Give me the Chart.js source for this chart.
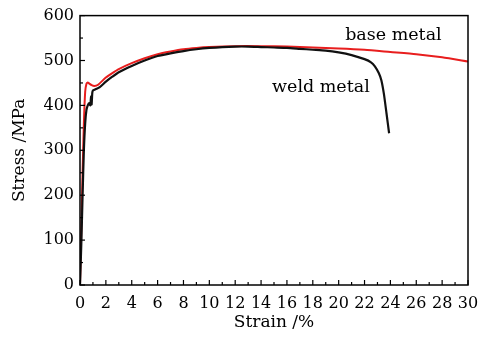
<!DOCTYPE html>
<html>
<head>
<meta charset="utf-8">
<script src="https://cdn.jsdelivr.net/npm/chart.js@4"></script>
<style>
  html, body { margin: 0; padding: 0; background: #fff; }
  #wrap { width: 495px; height: 338px; }
</style>
</head>
<body>
<div id="wrap"><canvas id="curve" width="495" height="338"></canvas></div>
<script>
// base metal (red)
const baseStrain = [0, 0.1, 0.2, 0.3, 0.4, 0.5, 0.6, 0.7, 0.9, 1.1, 1.4, 2, 2.5, 3, 4, 5, 6, 7, 8, 9, 10, 12, 14, 16, 18, 20, 22, 24, 26, 28, 30]
const baseStress = [0, 120, 250, 360, 430, 448, 451, 449, 445, 443, 446, 462, 472, 481, 494, 505, 514, 520, 525, 528, 530, 532, 532, 531, 529, 527, 524, 519, 514, 507, 498]

// weld metal (black)
const weldStrain = [0, 0.1, 0.2, 0.3, 0.4, 0.5, 0.6, 0.7, 0.8, 0.85, 0.9, 0.95, 1.0, 1.2, 1.5, 2, 2.5, 3, 4, 5, 6, 7, 8, 9, 10, 11, 12, 13, 14, 15, 16, 17, 18, 19, 20, 21, 22, 22.5, 22.8, 23.1, 23.3, 23.5, 23.7, 23.9]
const weldStress = [0, 90, 200, 300, 360, 390, 400, 405, 400, 420, 402, 428, 433, 436, 440, 453, 464, 474, 488, 500, 510, 516, 521, 525, 528, 530, 531, 531, 530, 529, 528, 526, 524, 522, 518, 512, 503, 496, 487, 472, 456, 425, 382, 338]

const xTicks = [0, 2, 4, 6, 8, 10, 12, 14, 16, 18, 20, 22, 24, 26, 28, 30]
const yTicks = [0, 100, 200, 300, 400, 500, 600]

const annotations = [
  { text: 'base metal', x: 20.5, y: 556 },
  { text: 'weld metal', x: 14.85, y: 441 },
]

const serif = "'DejaVu Serif', 'Liberation Serif', serif"

function pts(xs, ys) {
  return xs.map((x, i) => ({ x: x, y: ys[i] }))
}

const frameTicks = {
  id: 'frameTicks',
  afterDraw(chart) {
    const ctx = chart.ctx
    const a = chart.chartArea
    const xs = chart.scales.x
    const ys = chart.scales.y
    ctx.save()
    ctx.strokeStyle = '#000'
    ctx.lineWidth = 1.2
    // inward ticks on x axis (every 1)
    for (let v = 0; v <= 30; v += 1) {
      const px = xs.getPixelForValue(v)
      const len = v % 2 === 0 ? 5 : 3
      ctx.beginPath()
      ctx.moveTo(px, a.bottom)
      ctx.lineTo(px, a.bottom - len)
      ctx.stroke()
    }
    // inward ticks on y axis (every 50)
    for (let v = 0; v <= 600; v += 50) {
      const py = ys.getPixelForValue(v)
      const len = v % 100 === 0 ? 5 : 3
      ctx.beginPath()
      ctx.moveTo(a.left, py)
      ctx.lineTo(a.left + len, py)
      ctx.stroke()
    }
    ctx.lineWidth = 1.5
    ctx.strokeRect(a.left, a.top, a.right - a.left, a.bottom - a.top)

    ctx.fillStyle = '#000'
    ctx.font = '17.5px ' + serif
    ctx.textAlign = 'left'
    ctx.textBaseline = 'middle'
    annotations.forEach(n => {
      ctx.fillText(n.text, xs.getPixelForValue(n.x), ys.getPixelForValue(n.y))
    })
    ctx.restore()
  }
}

const config = {
  type: 'scatter',
  data: {
    datasets: [
      {
        label: 'weld metal',
        data: pts(weldStrain, weldStress),
        showLine: true,
        borderColor: '#111',
        borderWidth: 2.2,
        pointRadius: 0,
        tension: 0.2,
      },
      {
        label: 'base metal',
        data: pts(baseStrain, baseStress),
        showLine: true,
        borderColor: 'rgb(232, 30, 30)',
        borderWidth: 2,
        pointRadius: 0,
        tension: 0.2,
      },
    ],
  },
  options: {
    responsive: false,
    animation: false,
    devicePixelRatio: 1,
    layout: { padding: { top: 13, right: 27, left: 0, bottom: 0 } },
    plugins: {
      legend: { display: false },
      tooltip: { enabled: false },
    },
    scales: {
      x: {
        type: 'linear',
        min: 0,
        max: 30,
        afterBuildTicks: s => { s.ticks = xTicks.map(v => ({ value: v })) },
        afterFit: s => { s.height = 53 },
        ticks: {
          autoSkip: false,
          maxRotation: 0,
          padding: 9,
          color: '#000',
          font: { family: serif, size: 16 },
        },
        grid: { display: false, drawTicks: false },
        border: { display: false },
        title: {
          display: true,
          text: 'Strain /%',
          color: '#000',
          font: { family: serif, size: 17 },
          padding: { top: 0, bottom: 5 },
        },
      },
      y: {
        min: 0,
        max: 600,
        afterBuildTicks: s => { s.ticks = yTicks.map(v => ({ value: v })) },
        afterFit: s => { s.width = 80 },
        ticks: {
          padding: 6,
          color: '#000',
          font: { family: serif, size: 16 },
        },
        grid: { display: false, drawTicks: false },
        border: { display: false },
        title: {
          display: true,
          text: 'Stress /MPa',
          color: '#000',
          font: { family: serif, size: 17 },
          padding: { top: 9, bottom: 0 },
        },
      },
    },
  },
  plugins: [frameTicks],
}

const curveChart = new Chart(document.getElementById('curve'), config)
</script>
</body>
</html>
